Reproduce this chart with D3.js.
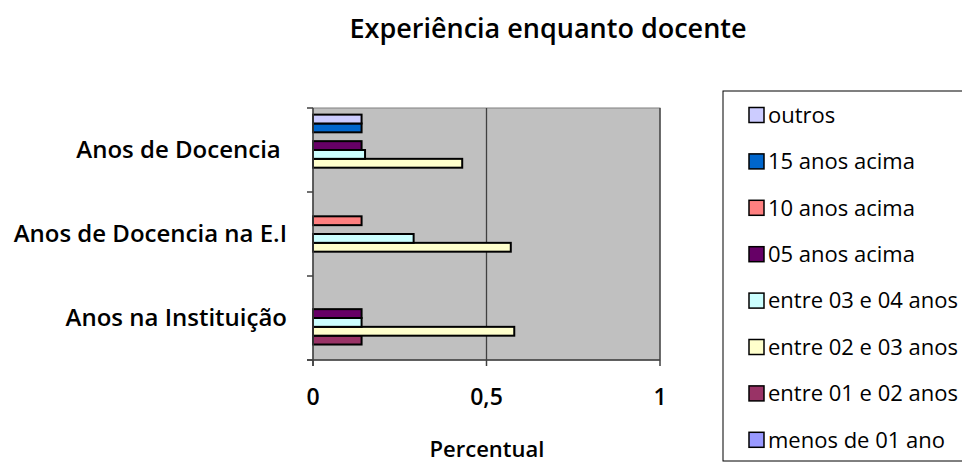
<!DOCTYPE html>
<html>
<head>
<meta charset="utf-8">
<script src="https://cdn.jsdelivr.net/npm/d3@7"></script>
<style>
  body { margin: 0; background: #fff; }
  text { font-family: "Open Sans", sans-serif; fill: #000; }
</style>
</head>
<body>
<svg id="chart" width="962" height="464"></svg>
<script>
// categories from bottom to top, as Excel draws them
const categories = ["Anos na Instituição", "Anos de Docencia na E.I", "Anos de Docencia "];
const seriesNames = ["menos de 01 ano", "entre 01 e 02 anos", "entre 02 e 03 anos", "entre 03 e 04 anos",
                     "05 anos acima", "10 anos acima", "15 anos acima", "outros"];
const seriesColors = ["#9999ff", "#993366", "#ffffcc", "#ccffff", "#660066", "#ff8080", "#0066cc", "#ccccff"];
// values[series][category]
const values = [
    [0, 0, 0],
    [0.14, 0, 0],
    [0.58, 0.57, 0.43],
    [0.14, 0.29, 0.15],
    [0.14, 0, 0.14],
    [0, 0.14, 0],
    [0, 0, 0.14],
    [0, 0, 0.14]
];
const xTicks = [0, 0.5, 1];

const svg = d3.select("#chart");
const plotLeft = 313, plotRight = 660, plotTop = 108, plotBottom = 360;

const x = d3.scaleLinear().domain([0, 1]).range([plotLeft, plotRight]);
// category bands, first category at the bottom
const y = d3.scaleBand().domain(categories).range([plotBottom, plotTop]);
const barH = y.bandwidth() / 9.5;

// plot area
svg.append("rect")
    .attr("x", plotLeft).attr("y", plotTop)
    .attr("width", plotRight - plotLeft).attr("height", plotBottom - plotTop)
    .style("fill", "#c0c0c0")
    .style("stroke", "#808080")
    .style("stroke-width", 1);

// gridlines
svg.append("g").selectAll("line")
    .data(xTicks.slice(1))
    .enter().append("line")
    .attr("x1", d => x(d)).attr("x2", d => x(d))
    .attr("y1", plotTop).attr("y2", plotBottom)
    .style("stroke", "#404040").style("stroke-width", 1.3);

// bars
const bars = [];
values.forEach((row, s) => {
    row.forEach((v, c) => {
        if (v > 0) bars.push({ s: s, c: categories[c], v: v });
    });
});

svg.append("g").selectAll("rect")
    .data(bars)
    .enter().append("rect")
    .attr("x", x(0))
    .attr("y", d => y(d.c) + y.bandwidth() - barH * 0.75 - (d.s + 1) * barH)
    .attr("width", d => x(d.v) - x(0))
    .attr("height", barH)
    .style("fill", d => seriesColors[d.s])
    .style("stroke", "#000")
    .style("stroke-width", 2);

// axes
const axisColor = "#404040";
svg.append("line")
    .attr("x1", plotLeft).attr("x2", plotLeft).attr("y1", plotTop).attr("y2", plotBottom + 6)
    .style("stroke", axisColor).style("stroke-width", 1.5);
svg.append("line")
    .attr("x1", plotLeft - 6).attr("x2", plotRight).attr("y1", plotBottom).attr("y2", plotBottom)
    .style("stroke", axisColor).style("stroke-width", 1.5);

// category ticks
svg.append("g").selectAll("line")
    .data([0, 1, 2, 3])
    .enter().append("line")
    .attr("x1", plotLeft - 6).attr("x2", plotLeft)
    .attr("y1", i => plotBottom - i * y.step()).attr("y2", i => plotBottom - i * y.step())
    .style("stroke", axisColor).style("stroke-width", 1.5);

// value ticks
svg.append("g").selectAll("line")
    .data(xTicks)
    .enter().append("line")
    .attr("x1", d => x(d)).attr("x2", d => x(d))
    .attr("y1", plotBottom).attr("y2", plotBottom + 6)
    .style("stroke", axisColor).style("stroke-width", 1.5);

svg.append("g").selectAll("text")
    .data(xTicks)
    .enter().append("text")
    .attr("x", d => x(d))
    .attr("y", 405)
    .attr("text-anchor", "middle")
    .style("font-size", "23px").style("font-weight", "600")
    .text(d => String(d).replace(".", ","));

// category labels
svg.append("g").selectAll("text")
    .data(categories)
    .enter().append("text")
    .attr("x", 287)
    .attr("y", d => y(d) + y.bandwidth() / 2)
    .attr("dy", "0.35em")
    .attr("text-anchor", "end")
    .attr("xml:space", "preserve")
    .style("white-space", "pre")
    .style("font-size", "24px").style("font-weight", "600")
    .text(d => d);

// title
svg.append("text")
    .attr("x", 548).attr("y", 38)
    .attr("text-anchor", "middle")
    .style("font-size", "27px").style("font-weight", "600")
    .text("Experiência enquanto docente");

// axis title
svg.append("text")
    .attr("x", 487).attr("y", 457)
    .attr("text-anchor", "middle")
    .style("font-size", "22px").style("font-weight", "600")
    .text("Percentual");

// legend
const legend = svg.append("g");
legend.append("rect")
    .attr("x", 723).attr("y", 91)
    .attr("width", 260).attr("height", 370)
    .style("fill", "#fff").style("stroke", "#000").style("stroke-width", 1);

const legendOrder = d3.range(seriesNames.length).reverse();
const item = legend.selectAll("g.item")
    .data(legendOrder)
    .enter().append("g")
    .attr("class", "item")
    .attr("transform", (s, i) => `translate(0, ${115 + i * 46.4})`);

item.append("rect")
    .attr("x", 749).attr("y", -7.5)
    .attr("width", 15).attr("height", 15)
    .style("fill", s => seriesColors[s])
    .style("stroke", "#000").style("stroke-width", 1.5);

item.append("text")
    .attr("x", 768).attr("dy", "0.35em")
    .style("font-size", "22px")
    .text(s => seriesNames[s]);
</script>
</body>
</html>
